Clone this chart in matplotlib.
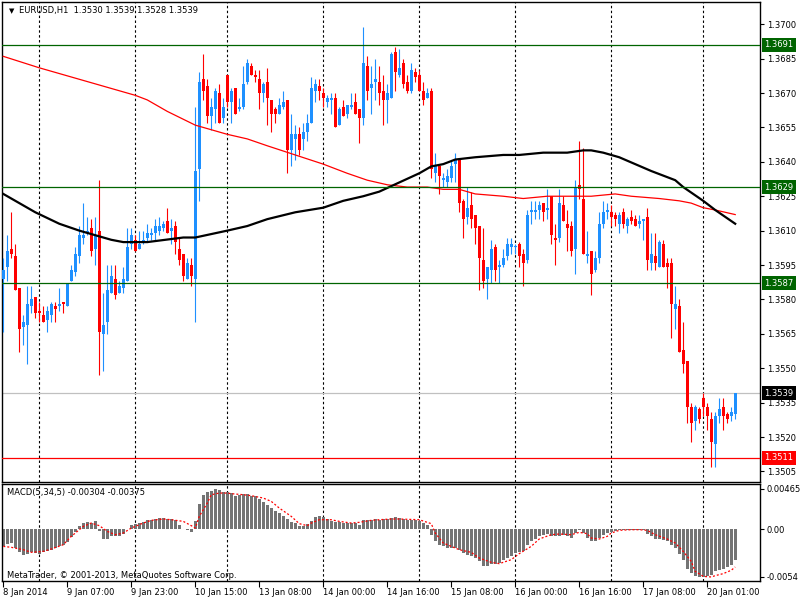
import numpy as np
import matplotlib
matplotlib.use("Agg")
import matplotlib.pyplot as plt
import matplotlib.transforms as mtransforms

# ---------------- data (EURUSD H1) ----------------
opens = [1.3589, 1.3594, 1.3602, 1.3599, 1.3585, 1.3568, 1.3569, 1.3577, 1.3581, 1.3575,
         1.3573, 1.3571, 1.3573, 1.3577, 1.3577, 1.3579, 1.3577, 1.3588, 1.3592, 1.3599,
         1.3607, 1.3609, 1.3611, 1.3602, 1.3610, 1.3565, 1.3570, 1.3583, 1.3589, 1.3583,
         1.3585, 1.3588, 1.3604, 1.3606, 1.3602, 1.3605, 1.3607, 1.3608, 1.3609, 1.3610,
         1.3611, 1.3614, 1.3610, 1.3612, 1.3602, 1.3600, 1.3589, 1.3595, 1.3589, 1.3637,
         1.3676, 1.3673, 1.3660, 1.3663, 1.3670, 1.3659, 1.3678, 1.3666, 1.3672, 1.3663,
         1.3664, 1.3675, 1.3682, 1.3678, 1.3676, 1.3670, 1.3675, 1.3667, 1.3663, 1.3661,
         1.3664, 1.3667, 1.3645, 1.3650, 1.3652, 1.3650, 1.3653, 1.3657, 1.3671, 1.3673,
         1.3670, 1.3666, 1.3667, 1.3668, 1.3656, 1.3664, 1.3661, 1.3664, 1.3666, 1.3663,
         1.3659, 1.3682, 1.3672, 1.3675, 1.3675, 1.3671, 1.3667, 1.3668, 1.3688, 1.3678,
         1.3683, 1.3675, 1.3671, 1.3679, 1.3678, 1.3671, 1.3668, 1.3671, 1.3635, 1.3638,
         1.3632, 1.3631, 1.3633, 1.3639, 1.3641, 1.3623, 1.3616, 1.3621, 1.3617, 1.3612,
         1.3597, 1.3589, 1.3593, 1.3603, 1.3594, 1.3595, 1.3599, 1.3603, 1.3603, 1.3604,
         1.3600, 1.3597, 1.3618, 1.3618, 1.3619, 1.3622, 1.3619, 1.3625, 1.3607, 1.3607,
         1.3621, 1.3613, 1.3612, 1.3602, 1.3630, 1.3624, 1.3599, 1.3601, 1.3593, 1.3598,
         1.3613, 1.3618, 1.3618, 1.3617, 1.3613, 1.3618, 1.3612, 1.3616, 1.3615, 1.3613,
         1.3614, 1.3616, 1.3596, 1.3599, 1.3594, 1.3604, 1.3596, 1.3596, 1.3576, 1.3577,
         1.3558, 1.3553, 1.3533, 1.3527, 1.3532, 1.3537, 1.3533, 1.3528, 1.3517, 1.3529,
         1.3533, 1.3530, 1.3529, 1.3530]
highs = [1.3598, 1.3608, 1.3618, 1.3604, 1.3585, 1.3573, 1.3586, 1.3586, 1.3581, 1.3579,
         1.3577, 1.3577, 1.3579, 1.3579, 1.3585, 1.3579, 1.3587, 1.3595, 1.3603, 1.3612,
         1.3622, 1.3616, 1.3615, 1.3616, 1.3632, 1.3583, 1.3595, 1.3595, 1.3595, 1.3588,
         1.3594, 1.3611, 1.3611, 1.3608, 1.3610, 1.3610, 1.3613, 1.3611, 1.3615, 1.3616,
         1.3614, 1.3620, 1.3615, 1.3614, 1.3607, 1.3600, 1.3598, 1.3598, 1.3664, 1.3679,
         1.3687, 1.3676, 1.3668, 1.3672, 1.3674, 1.3668, 1.3678, 1.3672, 1.3672, 1.3668,
         1.3682, 1.3685, 1.3683, 1.3680, 1.3680, 1.3675, 1.3681, 1.3667, 1.3664, 1.3668,
         1.3671, 1.3667, 1.3661, 1.3656, 1.3655, 1.3657, 1.3661, 1.3677, 1.3676, 1.3676,
         1.3672, 1.3669, 1.3670, 1.3670, 1.3664, 1.3667, 1.3665, 1.3670, 1.3670, 1.3663,
         1.3699, 1.3686, 1.3682, 1.3685, 1.3682, 1.3678, 1.3674, 1.3688, 1.3690, 1.3689,
         1.3685, 1.3678, 1.3683, 1.3681, 1.3680, 1.3675, 1.3672, 1.3672, 1.3644, 1.3638,
         1.3635, 1.3637, 1.3641, 1.3644, 1.3641, 1.3624, 1.3629, 1.3627, 1.3617, 1.3612,
         1.3611, 1.3594, 1.3606, 1.3604, 1.3597, 1.3602, 1.3607, 1.3607, 1.3604, 1.3605,
         1.3602, 1.3619, 1.3623, 1.3623, 1.3623, 1.3622, 1.3628, 1.3625, 1.3613, 1.3628,
         1.3625, 1.3619, 1.3614, 1.3632, 1.3649, 1.3646, 1.3610, 1.3601, 1.3601, 1.3618,
         1.3623, 1.3622, 1.3621, 1.3618, 1.3618, 1.3620, 1.3616, 1.3619, 1.3617, 1.3617,
         1.3615, 1.3620, 1.3609, 1.3609, 1.3606, 1.3606, 1.3598, 1.3598, 1.3586, 1.3580,
         1.3570, 1.3553, 1.3535, 1.3534, 1.3533, 1.3539, 1.3535, 1.3531, 1.3531, 1.3537,
         1.3537, 1.3531, 1.3533, 1.3539]
lows = [1.3566, 1.3588, 1.3598, 1.3584, 1.3557, 1.3560, 1.3552, 1.3574, 1.3572, 1.3570,
        1.3570, 1.3566, 1.3570, 1.3570, 1.3575, 1.3574, 1.3577, 1.3588, 1.3590, 1.3596,
        1.3604, 1.3608, 1.3599, 1.3595, 1.3547, 1.3549, 1.3565, 1.3583, 1.3580, 1.3583,
        1.3583, 1.3588, 1.3602, 1.3601, 1.3602, 1.3604, 1.3605, 1.3606, 1.3606, 1.3608,
        1.3610, 1.3609, 1.3604, 1.3600, 1.3595, 1.3588, 1.3589, 1.3586, 1.3570, 1.3623,
        1.3667, 1.3657, 1.3654, 1.3657, 1.3657, 1.3657, 1.3664, 1.3657, 1.3661, 1.3662,
        1.3663, 1.3674, 1.3678, 1.3675, 1.3663, 1.3666, 1.3656, 1.3653, 1.3657, 1.3661,
        1.3663, 1.3635, 1.3638, 1.3641, 1.3643, 1.3645, 1.3649, 1.3657, 1.3666, 1.3667,
        1.3664, 1.3664, 1.3661, 1.3655, 1.3656, 1.3660, 1.3659, 1.3663, 1.3661, 1.3648,
        1.3656, 1.3667, 1.3661, 1.3667, 1.3665, 1.3656, 1.3657, 1.3668, 1.3671, 1.3677,
        1.3672, 1.3670, 1.3670, 1.3675, 1.3671, 1.3665, 1.3668, 1.3633, 1.3631, 1.3626,
        1.3629, 1.3629, 1.3631, 1.3631, 1.3618, 1.3607, 1.3613, 1.3611, 1.3604, 1.3584,
        1.3585, 1.3580, 1.3587, 1.3588, 1.3587, 1.3594, 1.3597, 1.3600, 1.3600, 1.3594,
        1.3586, 1.3596, 1.3613, 1.3615, 1.3615, 1.3614, 1.3615, 1.3604, 1.3595, 1.3605,
        1.3614, 1.3601, 1.3599, 1.3591, 1.3624, 1.3600, 1.3596, 1.3582, 1.3592, 1.3596,
        1.3611, 1.3615, 1.3612, 1.3612, 1.3609, 1.3611, 1.3609, 1.3613, 1.3612, 1.3611,
        1.3606, 1.3593, 1.3593, 1.3593, 1.3594, 1.3594, 1.3585, 1.3563, 1.3567, 1.3557,
        1.3548, 1.3526, 1.3518, 1.3523, 1.3526, 1.3529, 1.3523, 1.3507, 1.3507, 1.3526,
        1.3523, 1.3526, 1.3527, 1.3528]
closes = [1.3593, 1.3601, 1.3600, 1.3584, 1.3567, 1.3570, 1.3578, 1.3580, 1.3574, 1.3574,
          1.3570, 1.3575, 1.3578, 1.3576, 1.3578, 1.3578, 1.3587, 1.3593, 1.3600, 1.3608,
          1.3608, 1.3610, 1.3601, 1.3608, 1.3566, 1.3569, 1.3584, 1.3590, 1.3582, 1.3586,
          1.3589, 1.3603, 1.3608, 1.3601, 1.3604, 1.3606, 1.3609, 1.3609, 1.3612, 1.3612,
          1.3613, 1.3609, 1.3611, 1.3605, 1.3597, 1.3590, 1.3596, 1.3590, 1.3636, 1.3675,
          1.3671, 1.3660, 1.3664, 1.3671, 1.3657, 1.3664, 1.3666, 1.3671, 1.3661, 1.3664,
          1.3674, 1.3683, 1.3678, 1.3677, 1.3670, 1.3674, 1.3668, 1.3661, 1.3661, 1.3665,
          1.3666, 1.3645, 1.3652, 1.3652, 1.3645, 1.3653, 1.3657, 1.3672, 1.3674, 1.3671,
          1.3668, 1.3668, 1.3668, 1.3655, 1.3663, 1.3660, 1.3665, 1.3665, 1.3661, 1.3659,
          1.3683, 1.3671, 1.3674, 1.3676, 1.3670, 1.3667, 1.3670, 1.3687, 1.3679, 1.3681,
          1.3674, 1.3671, 1.3680, 1.3677, 1.3671, 1.3667, 1.3670, 1.3637, 1.3638, 1.3634,
          1.3633, 1.3634, 1.3638, 1.3641, 1.3622, 1.3615, 1.3620, 1.3615, 1.3611, 1.3598,
          1.3588, 1.3594, 1.3602, 1.3593, 1.3595, 1.3598, 1.3604, 1.3604, 1.3603, 1.3599,
          1.3596, 1.3617, 1.3619, 1.3619, 1.3621, 1.3618, 1.3620, 1.3608, 1.3606, 1.3622,
          1.3614, 1.3611, 1.3601, 1.3629, 1.3628, 1.3600, 1.3600, 1.3591, 1.3598, 1.3613,
          1.3618, 1.3619, 1.3616, 1.3615, 1.3617, 1.3613, 1.3615, 1.3614, 1.3612, 1.3614,
          1.3615, 1.3597, 1.3600, 1.3596, 1.3605, 1.3594, 1.3594, 1.3578, 1.3578, 1.3557,
          1.3552, 1.3533, 1.3526, 1.3533, 1.3528, 1.3533, 1.3529, 1.3518, 1.3529, 1.3532,
          1.3529, 1.3528, 1.3531, 1.3539]

# moving averages, read at points along the lines (bar index, price)
red_ma_bar = [0, 9, 21, 33, 36, 41, 48, 56, 61, 66, 73, 80, 86, 91, 96, 101, 106, 110, 114,
              118, 125, 130, 136, 141, 147, 153, 157, 164, 169, 172, 175, 178, 183]
red_ma = [1.3686, 1.3681, 1.3675, 1.3669, 1.3667, 1.3662, 1.3656, 1.3652, 1.3650, 1.3647,
          1.3643, 1.3639, 1.3635, 1.3632, 1.3630, 1.3629, 1.3629, 1.3628, 1.3628, 1.3626,
          1.3625, 1.3624, 1.3625, 1.3625, 1.3625, 1.3626, 1.3625, 1.3624, 1.3623, 1.3622,
          1.3620, 1.3619, 1.3617]
black_ma_bar = [0, 3, 8, 14, 19, 23, 27, 30, 36, 45, 48, 56, 61, 66, 73, 80, 85, 90, 94, 99,
                104, 107, 110, 113, 118, 125, 129, 135, 141, 145, 147, 150, 154, 158, 162,
                165, 168, 170, 175, 178, 183]
black_ma = [1.3626, 1.3623, 1.3618, 1.3613, 1.3610, 1.3608, 1.3606, 1.3605, 1.3605, 1.3607,
            1.3607, 1.3610, 1.3612, 1.3615, 1.3618, 1.3620, 1.3623, 1.3625, 1.3627, 1.3631,
            1.3635, 1.3638, 1.3639, 1.3641, 1.3642, 1.3643, 1.3643, 1.3644, 1.3644, 1.3645,
            1.3645, 1.3644, 1.3642, 1.3639, 1.3636, 1.3634, 1.3632, 1.3629, 1.3623, 1.3619,
            1.3613]

# MACD(5,34,5) histogram and signal
macd_hist = [-0.00198, -0.00167, -0.00160, -0.00217, -0.00266, -0.00300, -0.00281, -0.00266,
             -0.00274, -0.00281, -0.00266, -0.00255, -0.00243, -0.00217, -0.00198, -0.00186,
             -0.00148, -0.00091, -0.00038, 0.00030, 0.00068, 0.00080, 0.00068, 0.00095,
             -0.00027, -0.00110, -0.00110, -0.00076, -0.00084, -0.00084, -0.00053, -0.00002,
             0.00049, 0.00057, 0.00068, 0.00080, 0.00099, 0.00106, 0.00114, 0.00125,
             0.00125, 0.00118, 0.00114, 0.00099, 0.00049, 0.00004, -0.00008, -0.00034,
             0.00087, 0.00289, 0.00391, 0.00418, 0.00429, 0.00460, 0.00448, 0.00422,
             0.00418, 0.00410, 0.00380, 0.00388, 0.00395, 0.00403, 0.00380, 0.00372,
             0.00342, 0.00304, 0.00277, 0.00239, 0.00201, 0.00182, 0.00152, 0.00114,
             0.00076, 0.00068, 0.00030, 0.00030, 0.00057, 0.00095, 0.00137, 0.00144,
             0.00133, 0.00114, 0.00087, 0.00080, 0.00076, 0.00068, 0.00068, 0.00068,
             0.00068, 0.00042, 0.00106, 0.00106, 0.00106, 0.00114, 0.00106, 0.00114,
             0.00114, 0.00125, 0.00137, 0.00125, 0.00114, 0.00099, 0.00099, 0.00106,
             0.00087, 0.00068, 0.00049, -0.00065, -0.00141, -0.00179, -0.00198, -0.00217,
             -0.00217, -0.00217, -0.00236, -0.00274, -0.00293, -0.00304, -0.00331, -0.00369,
             -0.00418, -0.00418, -0.00395, -0.00395, -0.00388, -0.00350, -0.00331, -0.00304,
             -0.00274, -0.00266, -0.00255, -0.00179, -0.00141, -0.00114, -0.00076, -0.00065,
             -0.00053, -0.00076, -0.00084, -0.00076, -0.00065, -0.00076, -0.00103, -0.00046,
             -0.00015, -0.00046, -0.00103, -0.00141, -0.00141, -0.00103, -0.00065, -0.00046,
             -0.00034, -0.00027, -0.00015, -0.00008, -0.00008, -0.00008, -0.00008, -0.00008,
             -0.00008, -0.00057, -0.00084, -0.00114, -0.00114, -0.00122, -0.00133, -0.00179,
             -0.00217, -0.00281, -0.00350, -0.00456, -0.00502, -0.00532, -0.00547, -0.00547,
             -0.00540, -0.00521, -0.00483, -0.00464, -0.00456, -0.00433, -0.00407, -0.00350]
signal_bar = [0, 2, 5, 7, 10, 12, 15, 17, 20, 22, 24, 26, 28, 30, 32, 35, 37, 40, 42, 45,
              47, 48, 49, 51, 52, 54, 56, 57, 60, 62, 65, 67, 69, 72, 74, 76, 77, 79, 82, 84,
              87, 89, 92, 94, 97, 99, 104, 107, 108, 110, 112, 114, 117, 119, 122, 124, 127,
              129, 132, 134, 137, 139, 142, 144, 146, 147, 149, 151, 152, 154, 157, 159, 161,
              163, 166, 168, 170, 172, 173, 175, 177, 178, 180, 182, 183]
signal = [-0.00198, -0.00209, -0.00236, -0.00266, -0.00255, -0.00228, -0.00179, -0.00084,
          0.00030, 0.00068, 0.00038, -0.00027, -0.00065, -0.00046, 0.00011, 0.00068, 0.00099,
          0.00114, 0.00106, 0.00087, 0.00038, 0.00011, 0.00144, 0.00296, 0.00391, 0.00410,
          0.00410, 0.00403, 0.00391, 0.00380, 0.00353, 0.00315, 0.00239, 0.00144, 0.00061,
          0.00038, 0.00068, 0.00106, 0.00106, 0.00087, 0.00068, 0.00076, 0.00099, 0.00106,
          0.00114, 0.00114, 0.00106, 0.00061, -0.00046, -0.00160, -0.00198, -0.00236, -0.00266,
          -0.00331, -0.00380, -0.00395, -0.00350, -0.00281, -0.00198, -0.00114, -0.00065,
          -0.00057, -0.00065, -0.00038, -0.00053, -0.00103, -0.00114, -0.00084, -0.00046,
          -0.00015, -0.00008, -0.00008, -0.00015, -0.00065, -0.00114, -0.00160, -0.00255,
          -0.00369, -0.00483, -0.00540, -0.00547, -0.00532, -0.00509, -0.00471, -0.00433]

# levels drawn as horizontal lines
green_levels = [1.3691, 1.3629, 1.3587]
bid_level = 1.3539
red_level = 1.3511

price_ticks = [1.3505, 1.3520, 1.3535, 1.3550, 1.3565, 1.3580, 1.3595, 1.3610, 1.3625,
               1.3640, 1.3655, 1.3670, 1.3685, 1.3700]
time_tick_bars = [0, 16, 32, 48, 64, 80, 96, 112, 128, 144, 160, 176]
time_labels = ["8 Jan 2014", "9 Jan 07:00", "9 Jan 23:00", "10 Jan 15:00", "13 Jan 08:00",
               "14 Jan 00:00", "14 Jan 16:00", "15 Jan 08:00", "16 Jan 00:00",
               "16 Jan 16:00", "17 Jan 08:00", "20 Jan 01:00"]
grid_bars = [9, 33, 56, 80, 104, 128, 152, 175]

# ---------------- figure ----------------
plt.rcParams['font.family'] = ['DejaVu Sans']
plt.rcParams['font.size'] = 6

fig = plt.figure(figsize=(8, 6), dpi=100)
fig.patch.set_facecolor('white')
W, H = 800.0, 600.0
ax = fig.add_axes([2 / W, 1 - 481.5 / H, 758 / W, 479.5 / H])
ax2 = fig.add_axes([2 / W, 1 - 581 / H, 758 / W, 97.5 / H])

BLUE = '#1E90FF'
RED = '#FF0000'
GREEN = '#006400'

o = np.array(opens)
h = np.array(highs)
l = np.array(lows)
c = np.array(closes)
idx = np.arange(len(o))
colors = np.where(c >= o, BLUE, RED)

# candles: wicks then bodies
ax.vlines(idx, l, h, colors=colors, linewidth=0.8, zorder=3)
body_bottom = np.minimum(o, c)
body_height = np.maximum(np.abs(c - o), 0.00004)
ax.bar(idx, body_height, bottom=body_bottom, width=0.75, color=colors, linewidth=0, zorder=3)

# moving averages
ax.plot(red_ma_bar, red_ma, color=RED, linewidth=0.9, zorder=4)
ax.plot(black_ma_bar, black_ma, color='black', linewidth=1.6, zorder=4)

# horizontal levels
for lv in green_levels:
    ax.axhline(lv, color=GREEN, linewidth=0.9, zorder=5)
ax.axhline(bid_level, color='#C0C0C0', linewidth=0.9, zorder=2)
ax.axhline(red_level, color=RED, linewidth=0.9, zorder=5)

# dashed vertical grid
for g in grid_bars:
    ax.axvline(g, color='black', linestyle=(0, (2.2, 2.2)), linewidth=0.8, zorder=1)
    ax2.axvline(g, color='black', linestyle=(0, (2.2, 2.2)), linewidth=0.8, zorder=1)

ax.set_xlim(-0.325, 189.2)
ax.set_ylim(1.35006, 1.37097)
ax.set_xticks([])
ax.yaxis.tick_right()
ax.set_yticks(price_ticks)
ax.set_yticklabels([f"{p:.4f}" for p in price_ticks])
ax.tick_params(axis='y', direction='out', length=3, width=0.8, pad=2, colors='black')

# price tags on the right scale
tag_tr = mtransforms.blended_transform_factory(ax.transAxes, ax.transData)
tags = [(lv, GREEN) for lv in green_levels] + [(bid_level, 'black'), (red_level, RED)]
for lv, col in tags:
    ax.text(1.0 + 4.5 / 758, lv, f"{lv:.4f}", transform=tag_tr, ha='left', va='center',
            color='white', fontsize=6, zorder=10,
            bbox=dict(boxstyle='square,pad=0.3', facecolor=col, edgecolor='none'))

# header
ax.text(7 / 758, 1 - 9 / 479.5, "\u25bc", transform=ax.transAxes, ha='left', va='center',
        fontsize=5, color='black')
ax.text(17 / 758, 1 - 9 / 479.5, "EURUSD,H1  1.3530 1.3539 1.3528 1.3539",
        transform=ax.transAxes, ha='left', va='center', fontsize=6, color='black')

# ---------------- MACD panel ----------------
ax2.bar(idx, macd_hist, width=0.75, color='#747474', linewidth=0, zorder=2)
ax2.plot(signal_bar, signal, color=RED, linestyle=(0, (1.6, 1.6)), linewidth=0.9, zorder=3)
ax2.set_xlim(-0.325, 189.2)
ax2.set_ylim(-0.00593, 0.00519)
ax2.yaxis.tick_right()
ax2.set_yticks([max(macd_hist), 0.0, min(macd_hist)])
ax2.set_yticklabels(["0.00465", "0.00", "-0.0054"])
ax2.tick_params(axis='y', direction='out', length=3, width=0.8, pad=2)
ax2.set_xticks(time_tick_bars)
ax2.set_xticklabels(time_labels)
for lab in ax2.get_xticklabels():
    lab.set_horizontalalignment('left')
ax2.tick_params(axis='x', direction='out', length=4, width=0.8, pad=1)

ax2.text(5 / 758, 1 - 9 / 97.5, "MACD(5,34,5) -0.00304 -0.00375", transform=ax2.transAxes,
         ha='left', va='center', fontsize=6)
ax2.text(5 / 758, 6 / 97.5, "MetaTrader, \u00a9 2001-2013, MetaQuotes Software Corp.",
         transform=ax2.transAxes, ha='left', va='center', fontsize=6)

for a in (ax, ax2):
    for s in a.spines.values():
        s.set_linewidth(1.0)
        s.set_color('black')

fig.savefig("out.png", dpi=100, facecolor='white')
